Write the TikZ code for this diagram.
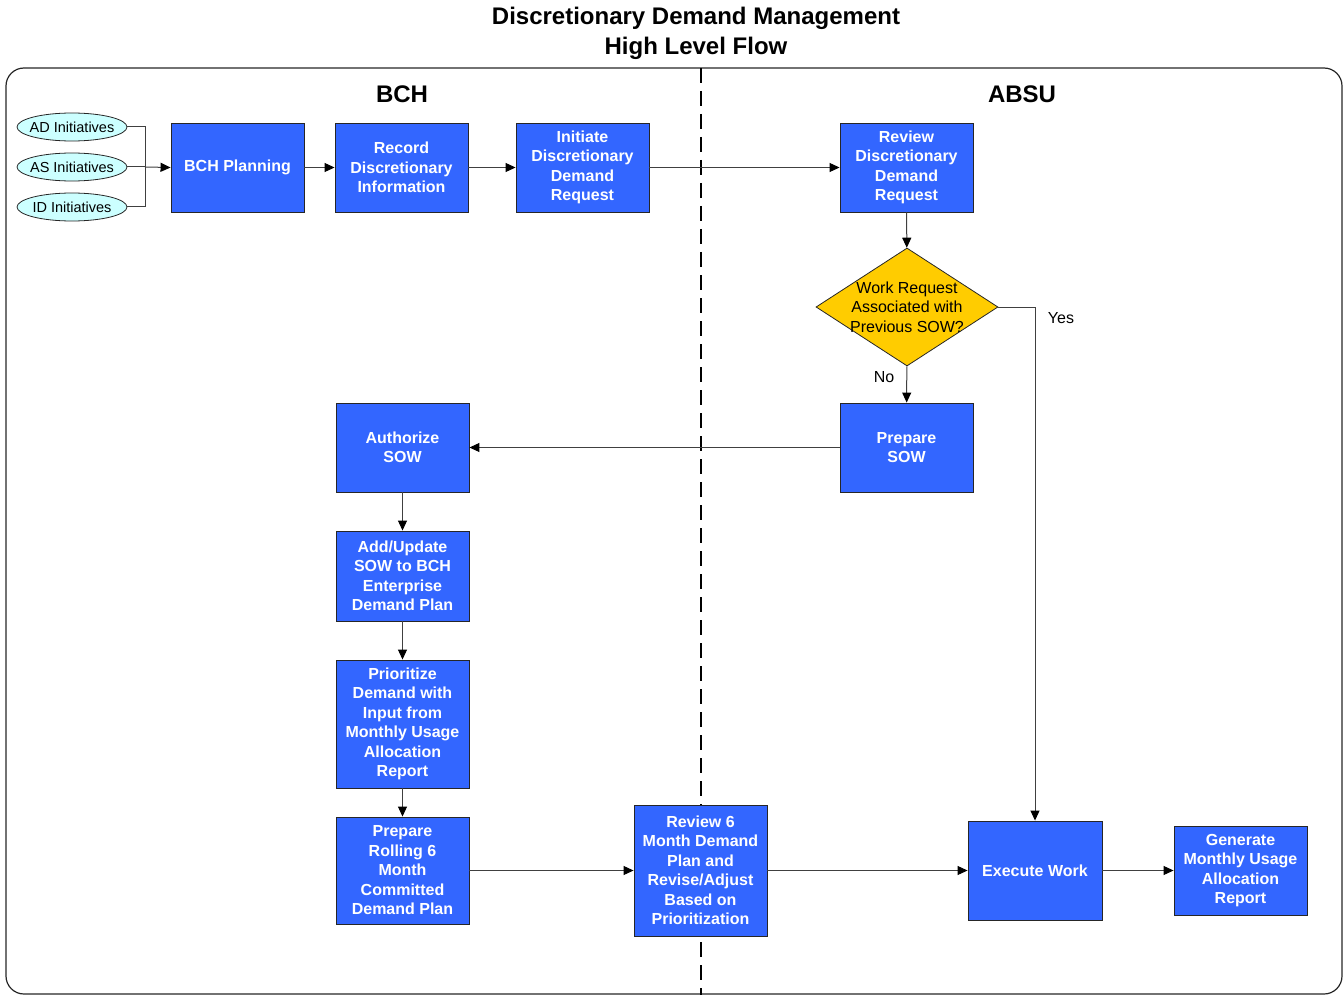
\documentclass[tikz,border=0pt]{standalone}
\usepackage{fontspec}
\setmainfont{Liberation Sans}
\usetikzlibrary{shapes.geometric,arrows.meta}
\definecolor{boxblue}{RGB}{51,102,255}
\definecolor{decyellow}{RGB}{255,204,0}
\definecolor{ellcyan}{RGB}{204,255,255}
\tikzset{
  stepbox/.style={draw=black!85, line width=0.9pt, fill=boxblue, text=white,
    font=\bfseries\fontsize{16}{19.5}\selectfont, align=center,
    minimum width=133pt, minimum height=89pt, inner sep=0pt},
  initell/.style={draw=black!85, line width=0.8pt, fill=ellcyan, ellipse,
    minimum width=110pt, minimum height=28pt, inner sep=0pt},
  decnode/.style={draw=black!85, line width=0.8pt, fill=decyellow, diamond,
    minimum width=182pt, minimum height=118pt, inner sep=0pt},
  conn/.style={draw=black!75, line width=1pt},
  arr/.style={conn, -{Triangle[length=10pt,width=9pt,color=black]}},
  lbl/.style={font=\fontsize{16}{20}\selectfont, inner sep=0pt},
}
\begin{document}
\begin{tikzpicture}[x=1pt,y=-1pt]
\useasboundingbox (0,0) rectangle (1344,995);
% title
\node[font=\bfseries\fontsize{24}{30}\selectfont, align=center, inner sep=0pt] (title) at (696,33) {Discretionary Demand Management\\High Level Flow};
% frame
\draw[line width=1.2pt, rounded corners=18pt, black!85] (6,68) rectangle (1342,994);
\coordinate (dtop) at (701,68);
\coordinate (dbot) at (701,995);
\draw[line width=2.6pt, dash pattern=on 15pt off 8pt] (dtop) -- (dbot);
\node[font=\bfseries\fontsize{24}{28}\selectfont, inner sep=0pt] (bch) at (402,94) {BCH};
\node[font=\bfseries\fontsize{24}{28}\selectfont, inner sep=0pt] (absu) at (1022,94) {ABSU};

% ellipses
\node[initell, label={[font=\fontsize{14.5}{17}\selectfont]center:AD Initiatives}] (ad) at (72,127) {};
\node[initell, label={[font=\fontsize{14.5}{17}\selectfont]center:AS Initiatives}] (as) at (72,167) {};
\node[initell, label={[font=\fontsize{14.5}{17}\selectfont]center:ID Initiatives}] (id) at (72,207) {};
\coordinate (join) at (145,167);

% boxes
\node[stepbox] (plan) at (237.5,167.5) {BCH Planning};
\node[stepbox] (rec) at (401.5,167.5) {Record\\Discretionary\\Information};
\node[stepbox] (init) at (582.5,167.5) {Initiate\\Discretionary\\Demand\\Request};
\node[stepbox] (rev) at (906.5,167.5) {Review\\Discretionary\\Demand\\Request};
\node[decnode, label={[font=\fontsize{16}{19.5}\selectfont, align=center]center:Work Request\\Associated with\\Previous SOW?}] (dec) at (907,307) {};
\node[stepbox] (prep) at (906.5,447.5) {Prepare\\SOW};
\node[stepbox] (auth) at (402.5,447.5) {Authorize\\SOW};
\node[stepbox, minimum height=90pt] (add) at (402.5,576) {Add/Update\\SOW to BCH\\Enterprise\\Demand Plan};
\node[stepbox, minimum height=128pt] (prio) at (402.5,724) {Prioritize\\Demand with\\Input from\\Monthly Usage\\Allocation\\Report};
\node[stepbox, minimum height=107pt] (roll) at (402.5,870.5) {Prepare\\Rolling 6\\Month\\Committed\\Demand Plan};
\node[stepbox, minimum height=131pt] (rev6) at (700.5,870.5) {Review 6\\Month Demand\\Plan and\\Revise/Adjust\\Based on\\Prioritization};
\node[stepbox, minimum width=134pt, minimum height=99pt] (exec) at (1035,870.5) {Execute Work};
\node[stepbox] (gen) at (1240.5,870.5) {Generate\\Monthly Usage\\Allocation\\Report};

% connectors
\draw[conn] (ad.east) -| (join);
\draw[conn] (id.east) -| (join);
\draw[conn] (as.east) -- (join);
\draw[arr] (join) -- (plan.west);
\draw[arr] (plan) -- (rec);
\draw[arr] (rec) -- (init);
\draw[arr] (init) -- (rev);
\draw[arr] (rev) -- (dec);
\draw[arr] (dec) -- node[lbl, pos=0.3, left=12pt] (no) {No} (prep);
\coordinate (ybend) at (1035,307);
\draw[arr] (dec.east) -- (ybend) -- (exec.north);
\node[lbl] (yes) at (1061,318) {Yes};
\draw[arr] (prep) -- (auth);
\draw[arr] (auth) -- (add);
\draw[arr] (add) -- (prio);
\draw[arr] (prio) -- (roll);
\draw[arr] (roll) -- (rev6);
\draw[arr] (rev6) -- (exec);
\draw[arr] (exec) -- (gen);
\end{tikzpicture}
\end{document}
